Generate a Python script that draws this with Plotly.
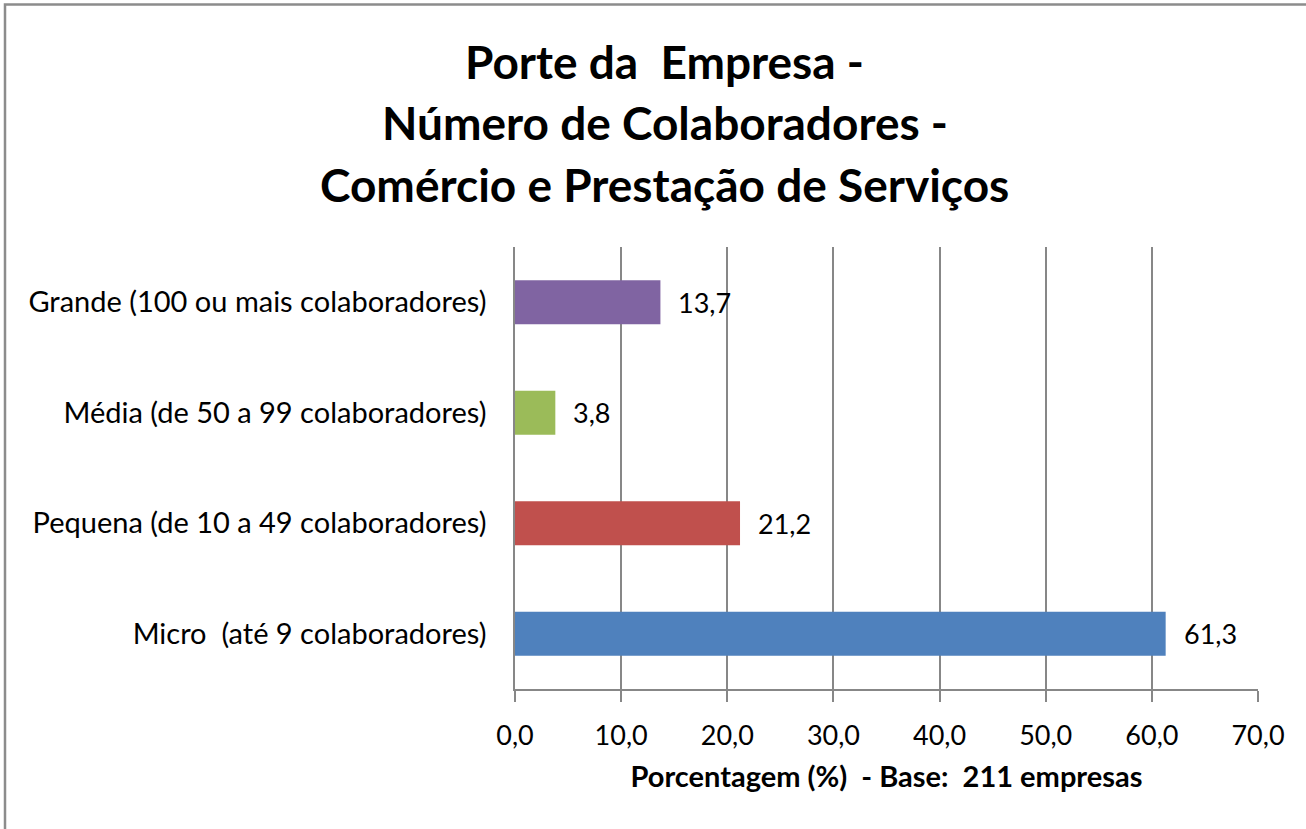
import plotly.graph_objects as go

categories = [
    "Micro  (até 9 colaboradores)",
    "Pequena (de 10 a 49 colaboradores)",
    "Média (de 50 a 99 colaboradores)",
    "Grande (100 ou mais colaboradores)",
]
values = [61.3, 21.2, 3.8, 13.7]
colors = ["#4F81BD", "#C0504D", "#9BBB59", "#8064A2"]
x_ticks = [0, 10, 20, 30, 40, 50, 60, 70]
title_lines = [
    "Porte da  Empresa -",
    "Número de Colaboradores -",
    "Comércio e Prestação de Serviços",
]

FONT = "Lato, Calibri, Carlito, sans-serif"
GRID = "#878787"
PLOT_TOP = 247

fig = go.Figure()
fig.add_trace(go.Bar(
    x=values, y=categories, orientation="h",
    marker=dict(color=colors, line=dict(width=0)),
    width=0.4, hoverinfo="skip",
))

for c, v in zip(categories, values):
    fig.add_annotation(
        x=v, y=c, xref="x", yref="y",
        text=f"{v:.1f}".replace(".", ","),
        showarrow=False, xanchor="left", xshift=16,
        font=dict(family=FONT, size=27, color="#000000"),
    )

for i, line in enumerate(title_lines):
    center_px = 61 + 61.5 * i
    fig.add_annotation(
        x=0.5, y=1.0, xref="paper", yref="paper",
        yshift=PLOT_TOP - center_px, xshift=-222,
        text=f"<b>{line}</b>",
        showarrow=False, xanchor="center", yanchor="middle",
        font=dict(family=FONT, size=46, color="#000000"),
    )

fig.update_layout(
    width=1306, height=829,
    margin=dict(l=515, r=48, t=PLOT_TOP, b=140),
    paper_bgcolor="#FFFFFF", plot_bgcolor="#FFFFFF",
    separators=",.",
    showlegend=False,
    bargap=0.6,
    xaxis=dict(
        range=[0, 70], tickvals=x_ticks, tickformat=".1f",
        showgrid=True, gridcolor=GRID, gridwidth=1.5,
        showline=True, linecolor=GRID, linewidth=1.5,
        ticks="outside", ticklen=11, tickcolor=GRID, tickwidth=1.5,
        tickfont=dict(family=FONT, size=27, color="#000000"),
        ticklabelstandoff=11,
        zeroline=False,
        title=dict(text="<b>Porcentagem (%)  - Base:  211 empresas</b>",
                   font=dict(family=FONT, size=29, color="#000000"), standoff=17),
    ),
    yaxis=dict(
        categoryorder="array", categoryarray=categories,
        showline=True, linecolor=GRID, linewidth=1.5,
        showgrid=False, ticks="",
        tickfont=dict(family=FONT, size=29, color="#000000"),
        ticklabelstandoff=21,
    ),
    font=dict(family=FONT),
)

# outer chart-area border (top and left edges visible)
fig.add_shape(type="rect", xref="paper", yref="paper",
              x0=(5 - 515) / 743, x1=1.2, y0=-1.2, y1=1 + (PLOT_TOP - 4.5) / 442,
              line=dict(color="#8C8C8C", width=2.5), layer="below")

fig.write_html("out.html", config={"displayModeBar": False},
               post_script="document.body.style.margin='0';")
